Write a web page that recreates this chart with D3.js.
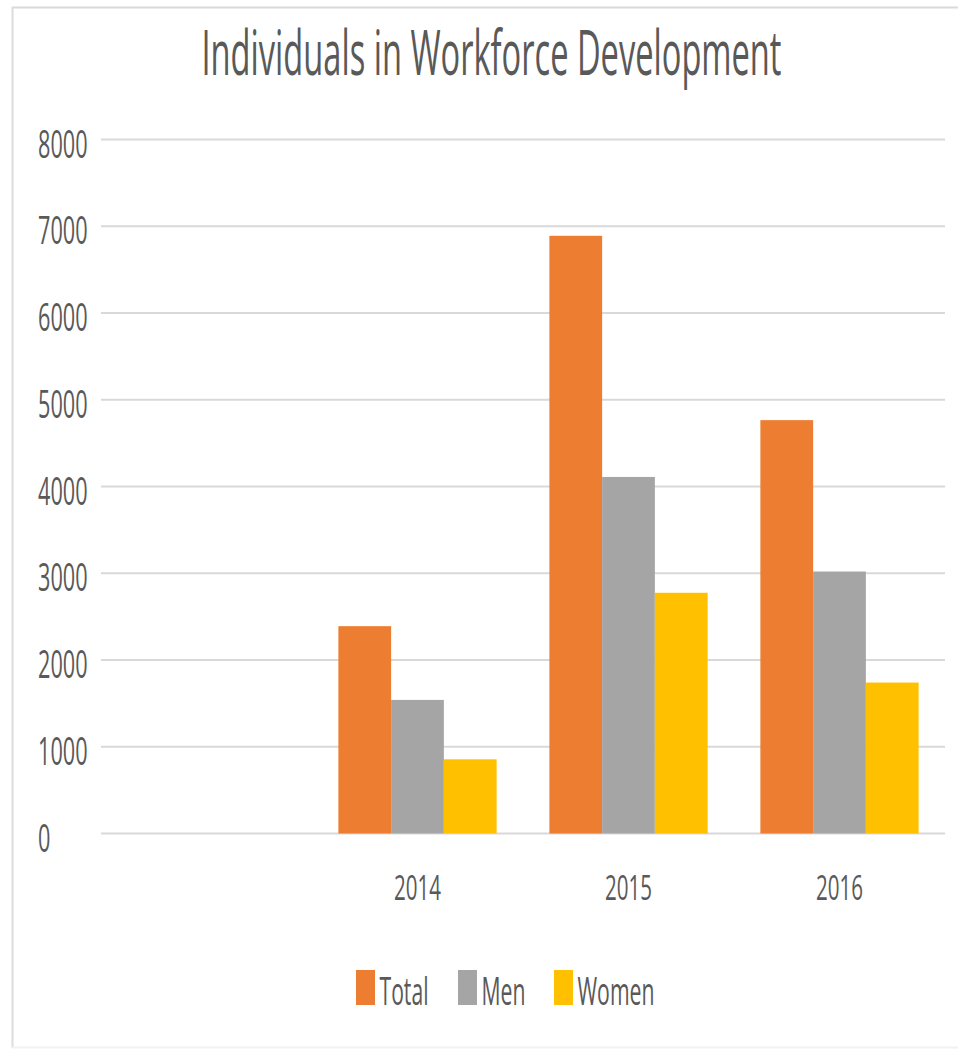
<!DOCTYPE html>
<html>
<head>
<meta charset="utf-8">
<script src="https://cdn.jsdelivr.net/npm/d3@7"></script>
<style>
  body { margin: 0; background: #fff; }
  text { font-family: "Open Sans", "Noto Sans", sans-serif; fill: #595959; }
</style>
</head>
<body>
<div id="chart"></div>
<script>
// chart data
var categories = ["", "2014", "2015", "2016"];
var seriesNames = ["Total", "Men", "Women"];
var totalValues = [null, 2390, 6890, 4765];
var menValues = [null, 1540, 4110, 3020];
var womenValues = [null, 855, 2775, 1740];
var yTicks = [0, 1000, 2000, 3000, 4000, 5000, 6000, 7000, 8000];
var colors = ["#ED7D31", "#A5A5A5", "#FFC000"];

var W = 958, H = 1055;
var plot = {left: 101, right: 945, top: 139.5, bottom: 833.5};
var stretch = 1.9; // text in the picture is tall and narrow

var svg = d3.select("#chart").append("svg")
    .attr("width", W)
    .attr("height", H);

// put a tall, narrow text at (x, y) baseline
function tallText(parent, x, y, size, width, anchor, str) {
    return parent.append("text")
        .attr("transform", "translate(" + x + "," + y + ") scale(1," + stretch + ")")
        .attr("text-anchor", anchor)
        .attr("font-size", size / stretch)
        .attr("textLength", width)
        .attr("lengthAdjust", "spacingAndGlyphs")
        .text(str);
}

// frame of the chart area
svg.append("line").attr("x1", 12).attr("x2", W).attr("y1", 7.5).attr("y2", 7.5)
    .attr("stroke", "#d9d9d9").attr("stroke-width", 2);
svg.append("line").attr("x1", 12.5).attr("x2", 12.5).attr("y1", 7).attr("y2", 1048)
    .attr("stroke", "#dcdcdc").attr("stroke-width", 2);
svg.append("line").attr("x1", 12).attr("x2", W).attr("y1", 1047.5).attr("y2", 1047.5)
    .attr("stroke", "#f2f2f2").attr("stroke-width", 2);

// scales
var x = d3.scaleBand()
    .domain(categories)
    .range([plot.left, plot.right])
    .paddingInner(0.25)
    .paddingOuter(0.125);

var xSub = d3.scaleBand()
    .domain(seriesNames)
    .range([0, x.bandwidth()]);

var y = d3.scaleLinear()
    .domain([0, 8000])
    .range([plot.bottom, plot.top]);

// gridlines
svg.append("g")
  .selectAll("line")
  .data(yTicks)
  .enter().append("line")
    .attr("x1", plot.left)
    .attr("x2", plot.right)
    .attr("y1", function(d) { return y(d); })
    .attr("y2", function(d) { return y(d); })
    .attr("stroke", "#d9d9d9")
    .attr("stroke-width", 2);

// y labels
var yLab = svg.append("g");
yTicks.forEach(function(d) {
    tallText(yLab, 38, y(d) + 18, 38, String(d).length * 12.4, "start", d);
});

// bars
var rows = categories.map(function(c, i) {
    return {cat: c, values: [totalValues[i], menValues[i], womenValues[i]]};
});

var groups = svg.append("g")
  .selectAll("g")
  .data(rows)
  .enter().append("g")
    .attr("transform", function(d) { return "translate(" + x(d.cat) + ",0)"; });

groups.selectAll("rect")
  .data(function(d) {
      return d.values.map(function(v, j) { return {name: seriesNames[j], value: v, color: colors[j]}; })
          .filter(function(e) { return e.value != null; });
  })
  .enter().append("rect")
    .attr("x", function(d) { return xSub(d.name); })
    .attr("width", xSub.bandwidth())
    .attr("y", function(d) { return y(d.value); })
    .attr("height", function(d) { return y(0) - y(d.value); })
    .attr("fill", function(d) { return d.color; });

// x labels
var xLab = svg.append("g");
categories.filter(function(c) { return c !== ""; }).forEach(function(c) {
    tallText(xLab, x(c) + x.bandwidth() / 2, plot.bottom + 66.5, 35, 47, "middle", c);
});

// title
tallText(svg, 491.5, 75, 63, 580, "middle", "Individuals in Workforce Development");

// legend
var legendX = [356, 458, 554];
var legendW = [49, 44, 77];
var legend = svg.append("g");
seriesNames.forEach(function(name, i) {
    legend.append("rect")
        .attr("x", legendX[i])
        .attr("y", 970)
        .attr("width", 19)
        .attr("height", 35)
        .attr("fill", colors[i]);
    tallText(legend, legendX[i] + 23.5, 1005, 38, legendW[i], "start", name);
});
</script>
</body>
</html>
